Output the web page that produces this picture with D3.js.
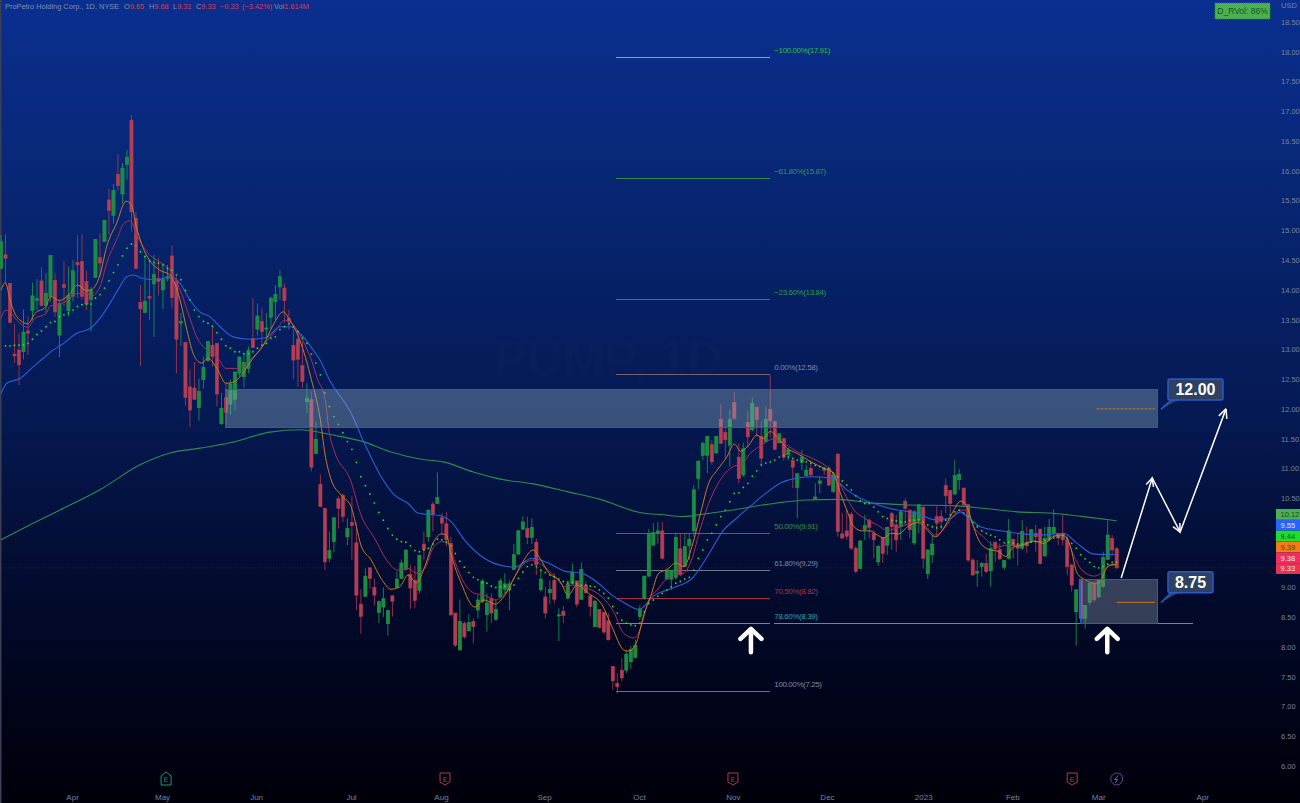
<!DOCTYPE html>
<html><head><meta charset="utf-8">
<style>html,body{margin:0;padding:0;background:#000;overflow:hidden}svg{display:block}text{font-family:"Liberation Sans",Arial,sans-serif}</style>
<script src="https://cdn.jsdelivr.net/npm/d3@7"></script>
</head><body><svg id="c" width="1300" height="803"></svg>
<script>
const opens=[14.36,14.59,14.11,12.92,12.99,12.96,13.31,13.65,13.82,14.15,
13.74,13.89,14.16,13.24,14.09,13.65,13.89,14.46,14.48,14.14,
13.84,14.21,14.54,14.81,15.51,15.25,15.94,15.61,16.11,16.85,
15.20,13.79,13.62,13.89,14.10,14.19,14.00,14.19,14.57,14.14,
13.44,13.12,12.37,12.35,12.02,12.49,12.81,13.07,13.10,11.75,
12.19,12.08,12.16,12.60,12.54,12.68,13.18,13.34,13.47,13.34,
13.54,13.80,14.05,14.03,13.52,13.07,13.17,12.73,12.12,12.16,
11.25,10.73,10.33,9.49,9.77,10.49,10.55,9.85,10.09,9.75,
8.72,8.85,9.33,9.00,8.58,8.67,8.39,8.86,9.00,9.15,
9.30,9.22,9.12,8.95,9.73,9.85,10.40,10.41,10.17,10.07,
9.74,8.57,7.95,8.40,8.27,8.43,8.62,8.76,8.54,8.82,
8.46,8.84,8.97,8.96,9.30,9.56,9.98,9.99,9.84,9.76,
8.96,8.84,8.91,9.12,8.52,8.60,8.82,9.07,9.11,8.80,
9.04,8.86,8.34,8.63,8.58,8.44,7.67,7.39,7.61,7.61,
7.75,7.82,8.51,8.82,9.19,9.71,9.91,9.95,9.14,9.14,
9.17,9.65,9.35,9.70,9.95,10.83,11.22,11.22,11.40,11.26,
11.82,11.60,11.39,12.11,11.19,10.89,11.77,11.65,12.03,11.54,
11.45,11.99,11.79,11.43,11.50,11.23,11.13,10.68,11.10,10.88,
11.00,10.48,10.75,11.00,11.00,10.61,11.24,9.90,9.95,10.23,
9.66,9.32,9.97,10.13,9.91,9.43,9.84,9.71,10.24,10.05,
10.02,10.45,10.30,9.75,10.12,10.35,9.23,9.55,10.19,10.19,
10.71,10.63,10.57,10.81,10.67,10.39,9.46,9.24,9.35,9.40,
9.28,9.76,9.64,9.34,9.49,9.81,9.70,9.66,9.76,9.79,
9.91,9.98,9.53,9.80,9.91,9.91,9.91,9.80,9.38,8.59,
9.14,8.48,8.75,9.07,8.84,9.02,9.47,9.82,9.65];
const highs=[14.92,14.94,14.11,13.43,13.27,13.67,13.55,14.12,14.18,14.38,
14.28,14.58,14.28,13.83,14.48,14.39,14.50,14.92,14.93,14.32,
14.05,14.85,14.95,15.17,15.70,15.78,16.28,16.13,16.35,16.94,
15.31,14.08,14.56,14.50,14.59,14.53,14.45,14.42,14.75,14.22,
13.61,13.12,12.66,12.79,12.51,12.88,13.13,13.38,13.10,12.27,
12.43,12.49,12.62,12.88,12.93,13.05,13.86,13.77,13.69,13.61,
13.89,14.08,14.33,14.11,13.66,13.33,13.33,13.13,12.43,12.29,
11.79,10.90,10.33,9.94,10.17,10.53,10.58,10.16,10.53,10.08,
8.97,9.32,9.33,9.15,8.78,9.00,8.63,8.86,9.27,9.47,
9.63,9.38,9.36,9.55,9.94,10.30,10.44,10.93,10.25,10.27,
9.85,8.57,8.80,8.43,8.55,8.48,8.87,9.14,8.90,8.90,
8.79,9.15,9.24,9.12,9.73,9.97,10.20,10.19,10.16,9.82,
9.29,9.01,9.12,9.24,8.65,8.68,9.12,9.40,9.12,9.42,
9.10,8.87,8.79,8.63,8.59,8.57,7.67,7.56,7.81,7.94,
8.02,8.12,8.70,9.19,9.98,10.08,10.10,10.10,9.29,9.29,
9.91,9.91,9.91,9.91,10.72,11.14,11.45,11.54,11.48,11.54,
12.08,11.70,11.99,12.28,11.42,11.43,11.97,12.19,12.03,11.79,
12.04,12.57,11.79,11.59,11.50,11.34,11.17,10.91,11.31,11.06,
11.14,10.75,10.86,11.03,11.03,10.92,11.25,10.25,10.30,10.27,
9.69,9.80,10.22,10.16,9.96,9.71,9.85,10.02,10.27,10.22,
10.30,10.50,10.30,10.30,10.39,10.35,9.63,9.88,10.36,10.30,
10.83,10.63,11.14,10.99,10.67,10.39,9.49,9.46,9.43,9.57,
9.77,9.77,9.74,9.46,10.15,9.82,9.91,10.13,10.02,9.98,
10.05,9.98,10.02,10.15,10.31,9.91,10.22,9.80,9.38,8.96,
9.14,8.70,9.07,9.11,9.14,9.60,10.12,9.88,9.68];
const lows=[14.36,14.11,13.45,12.77,12.40,12.83,12.91,13.49,13.66,13.72,
13.61,13.80,13.55,12.87,13.72,13.55,13.80,13.86,13.83,13.66,
13.30,14.21,14.22,14.81,14.92,15.11,15.67,15.45,15.85,14.98,
14.36,12.72,13.61,13.49,13.21,13.91,13.68,14.14,13.69,12.60,
13.06,12.05,11.69,12.15,11.80,12.35,12.79,12.71,12.04,11.73,
11.73,11.90,11.98,12.54,12.36,12.60,13.02,13.23,13.10,13.21,
13.35,13.49,13.83,13.45,13.33,12.50,12.37,12.35,11.93,10.95,
11.24,10.35,9.29,9.42,9.59,9.99,10.10,9.71,9.46,8.62,
8.22,8.85,8.98,8.70,8.40,8.50,8.19,8.51,8.99,9.14,
9.28,8.64,8.65,8.90,9.47,9.77,9.94,10.40,9.88,9.69,
8.52,8.00,7.94,8.14,8.26,8.06,8.48,8.74,8.26,8.40,
8.45,8.82,8.90,8.62,9.29,9.55,9.96,9.73,9.73,9.21,
8.93,8.48,8.72,8.73,8.10,8.40,8.80,9.04,8.67,8.79,
8.90,8.51,8.33,8.31,8.22,8.11,7.28,7.22,7.42,7.56,
7.63,7.81,8.45,8.79,9.18,9.71,9.74,9.47,9.13,8.96,
9.13,9.19,9.35,9.46,9.85,10.65,11.14,10.92,11.06,11.24,
11.41,11.17,11.03,11.82,10.75,10.86,11.35,11.62,11.53,11.03,
11.43,11.53,11.31,11.42,11.13,11.14,10.67,10.16,10.97,10.86,
10.86,10.48,10.58,10.89,10.70,10.59,9.85,9.81,9.80,9.63,
9.24,9.30,9.80,9.83,9.49,9.36,9.41,9.55,9.63,9.60,
9.80,10.05,9.83,9.71,9.91,9.32,9.14,9.41,9.85,9.97,
10.25,10.25,10.55,10.64,10.36,9.43,9.19,9.01,9.18,9.24,
9.01,9.43,9.46,9.29,9.47,9.49,9.37,9.63,9.58,9.77,
9.60,9.39,9.52,9.77,9.85,9.71,9.71,9.21,8.93,8.02,
8.39,8.31,8.70,8.76,8.82,8.99,9.46,9.55,9.31];
const closes=[14.81,14.53,13.45,12.89,12.74,13.29,13.27,13.90,13.85,13.74,
13.94,14.58,13.63,13.77,14.04,13.91,14.32,14.42,13.89,13.76,
13.99,14.85,14.45,15.17,15.33,15.67,15.75,16.04,16.23,15.31,
14.36,13.68,13.81,13.86,14.26,14.14,14.18,14.22,13.87,13.17,
13.47,12.19,11.98,12.16,12.29,12.70,13.13,12.88,12.25,12.01,
11.94,12.42,12.62,12.87,12.78,12.98,13.03,13.56,13.30,13.36,
13.86,13.92,14.22,13.82,13.47,12.82,12.83,12.46,12.18,11.02,
11.49,10.36,9.43,9.62,10.17,10.33,10.19,9.99,10.04,8.87,
8.51,9.19,9.15,8.87,8.76,8.81,8.61,8.77,9.14,9.41,
9.63,8.99,8.78,9.54,9.64,10.30,10.23,10.51,10.08,9.80,
8.54,8.03,8.43,8.17,8.41,8.34,8.79,9.11,8.74,8.57,
8.63,9.11,9.06,9.06,9.55,9.95,10.10,9.84,10.01,9.38,
9.14,8.57,8.97,8.80,8.54,8.53,9.06,9.26,8.72,9.30,
8.91,8.68,8.77,8.33,8.25,8.12,7.43,7.33,7.48,7.88,
7.96,8.03,8.64,9.19,9.91,9.92,9.95,9.49,9.29,9.29,
9.84,9.21,9.69,9.81,10.64,11.12,11.42,11.54,11.11,11.54,
11.42,11.48,11.82,11.84,10.83,11.33,11.53,12.09,11.82,11.17,
11.82,11.80,11.32,11.58,11.19,11.31,11.02,10.91,11.19,10.97,
10.89,10.52,10.79,10.97,10.72,10.89,9.94,9.83,9.86,9.66,
9.27,9.78,10.04,10.01,9.80,9.69,9.57,10.01,10.02,9.80,
10.27,10.33,9.97,10.27,10.39,9.49,9.63,9.73,10.08,10.11,
10.54,10.41,10.88,10.90,10.39,9.46,9.21,9.27,9.40,9.27,
9.65,9.65,9.48,9.45,9.95,9.70,9.66,9.94,9.70,9.97,
9.85,9.40,9.82,10.01,10.01,9.83,9.80,9.35,9.04,8.96,
8.48,8.70,9.07,8.79,9.13,9.50,9.88,9.63,9.33];

const fastBars=[0,1,2,3.5,6,7.5,10,11,13,15,17,19,20,22,23.5,25.7,27.8,29,30,31.6,33,35.3,37.5,39.8,41.3,43,44.6,46,48,50,52,54,56,58.3,60.5,62.7,64.2,66.4,69,71,72,73.3,75.6,77.8,79,80,82.3,84.5,86.7,88.6,90.5,92.3,94.2,96,98,99,100,102.3,105.3,107.4,109.8,112,114.2,116,118.3,119.8,121.7,124.3,126.1,128,130.6,133.6,135.8,138.4,139.3,141,143,144.4,146.2,148,150,151.8,153.6,155.5,157.3,159.2,161.4,163,164.4,166.2,168,169.5,171,172.8,174.7,177,180,183,185,186.6,188,189.6,191.4,193.2,194.8,196.3,197.8,199.6,201.5,204,205.6,207.7,210,211.8,213.3,214.7,215.9,217.3,219.2,221.8,223.3,225.1,227,229.6,231.8,234.4,236.2,237.7,239.2,241,243,244.4,245.5,246.6,248];
const fastValues=[14.0,14.12,13.83,13.55,13.43,13.6,13.72,13.89,13.82,13.91,14.08,13.99,14.0,14.25,14.73,15.12,15.49,15.43,15.09,14.7,14.5,14.33,14.25,13.83,13.33,12.88,12.77,12.85,12.68,12.43,12.46,12.63,12.85,13.07,13.41,13.63,13.49,13.16,12.49,11.81,11.25,10.83,10.55,10.36,10.02,9.71,9.46,9.15,8.97,9.01,9.21,9.08,9.35,9.74,9.9,9.88,9.57,9.07,8.67,8.79,8.72,8.87,9.18,9.43,9.63,9.49,9.25,9.1,8.87,9.04,8.9,8.71,8.34,7.95,7.93,8.03,8.57,8.85,9.24,9.3,9.41,9.35,9.69,10.25,10.75,10.97,11.2,11.41,11.29,11.39,11.56,11.5,11.62,11.5,11.34,11.25,11.11,11.0,10.92,10.58,10.3,10.02,9.95,9.95,9.88,9.83,9.91,9.9,10.02,10.1,9.99,9.85,10.05,10.3,10.45,10.36,10.08,9.8,9.65,9.6,9.52,9.68,9.71,9.78,9.74,9.87,9.88,9.69,9.24,9.13,9.07,9.1,9.29,9.38,9.39];
const midBars=[0,1,2,3.5,6,7.5,10,11,13,15,17,19,20,22,23.5,25.7,27.5,28.8,30,31.6,33,35.3,37.5,39.8,41.6,43.5,45.7,48,50,52.4,54.6,56.8,59,61.3,63,65,66.8,69,70.4,72,73,74,77.8,80,83,86,88.2,90.5,92.3,94.2,96,98,99.4,100.9,103,105.3,107.5,109.8,112,114.2,116,118.3,120.2,123.2,125.4,127.3,130.6,133.6,136.2,138.4,140.7,142,144,145.9,147.7,150,151.8,153.6,155.5,157.3,159.2,161,163,164.7,166.5,168.4,170.2,172,174.7,177,180.3,183,185.4,187.3,189.6,192,194.8,197,200,203,205.6,207.7,210,211.8,213.3,214.7,216.2,218.4,221.4,223.6,225.9,228.8,231.8,234.7,236.6,238.4,240.3,243,244.4,245.9,248];
const midValues=[13.52,13.66,13.63,13.49,13.37,13.52,13.6,13.73,13.76,13.83,13.94,13.94,13.89,14.05,14.45,14.84,15.13,15.16,14.95,14.73,14.59,14.47,14.33,14.0,13.61,13.21,12.99,12.88,12.68,12.68,12.77,12.93,13.13,13.33,13.49,13.41,13.19,12.82,12.49,12.18,11.59,11.31,10.78,10.22,9.83,9.43,9.29,9.32,9.24,9.32,9.66,9.77,9.74,9.43,9.07,8.9,8.87,8.79,8.9,9.18,9.38,9.46,9.38,9.18,9.01,9.04,8.98,8.84,8.59,8.23,8.15,8.28,8.79,8.96,9.13,9.21,9.24,9.49,10.0,10.41,10.72,10.92,11.04,11.07,11.25,11.36,11.45,11.5,11.39,11.28,11.17,11.06,10.89,10.61,10.3,10.16,10.05,9.96,10.02,10.09,10.02,9.88,10.02,10.22,10.3,10.3,10.02,9.85,9.68,9.71,9.71,9.77,9.77,9.87,9.85,9.54,9.29,9.19,9.23,9.35,9.38];
const blueBars=[0,1.3,4.2,7.2,9.4,10.9,13.9,16.8,19.8,22,24.2,26.4,27.9,29.4,31.6,34.6,37.6,39.8,42,44.2,46.4,48.7,51.6,55.3,59,62,64.2,67.2,69.4,70.9,73,77.8,80.8,84.5,87.5,90.5,92.7,97.9,100.1,103,106,109.8,114.2,118,121.7,125.4,129,132.8,135.8,138.8,141.8,145,150,153.6,157,160.7,163.3,166.5,169.5,173.2,177,180.7,185,188,191,194.8,199.2,203.6,207.3,211,213.3,214.7,217.7,221.4,225.9,231,236.2,239.2,243,248];
const blueValues=[12.26,12.43,12.51,12.71,12.85,12.95,13.1,13.27,13.35,13.52,13.77,14.05,14.22,14.25,14.19,14.17,14.22,14.11,13.83,13.63,13.55,13.38,13.21,13.17,13.2,13.38,13.38,13.21,12.99,12.82,12.49,11.93,11.42,10.86,10.55,10.41,10.25,10.2,10.1,9.8,9.57,9.4,9.34,9.49,9.41,9.27,9.24,9.07,8.87,8.73,8.63,8.85,9.01,9.15,9.52,9.97,10.15,10.36,10.55,10.75,10.84,10.86,10.83,10.64,10.5,10.39,10.3,10.25,10.14,10.16,10.27,10.19,10.02,9.96,9.91,9.88,9.91,9.74,9.56,9.55];
const longBars=[0,6.4,13.1,22,30.9,37.6,44.2,50.9,59.8,66.5,73.8,80.5,86.5,93.8,98.3,105,111,118.3,125.8,133.2,142,147.2,151.6,156,162.7,167.2,172.5,179.2,185.9,193.2,200.5,212.5,218.3,225.9,233.2,240.6,248];
const longValues=[9.8,10.05,10.3,10.64,11.06,11.26,11.34,11.43,11.61,11.65,11.56,11.45,11.28,11.15,11.11,10.94,10.82,10.74,10.61,10.48,10.26,10.22,10.19,10.23,10.3,10.36,10.42,10.47,10.48,10.42,10.39,10.37,10.33,10.27,10.25,10.19,10.12];
const dotFirstBar=1;
const dotValues=[13.06,13.06,13.07,13.07,13.08,13.10,13.17,13.25,13.31,13.38,13.45,13.47,13.55,13.58,13.61,13.66,13.72,13.75,13.76,13.76,13.86,13.92,14.03,14.15,14.29,14.42,14.57,14.70,14.77,14.74,14.64,14.56,14.49,14.46,14.45,14.42,14.36,14.33,14.25,14.17,13.99,13.83,13.66,13.55,13.47,13.44,13.39,13.28,13.17,13.06,13.02,12.96,12.96,12.93,12.93,12.96,13.02,13.07,13.10,13.19,13.21,13.33,13.38,13.43,13.38,13.30,13.19,13.10,12.92,12.77,12.57,
12.27,12.04,11.87,11.74,11.60,11.45,11.32,11.10,10.86,10.71,10.57,10.42,10.26,10.13,9.99,9.88,9.81,9.77,9.76,9.70,9.62,9.60,9.63,9.66,9.73,9.81,9.80,9.76,9.70,9.57,9.44,9.34,9.25,9.17,9.13,9.08,9.07,9.02,9.00,9.01,9.02,8.96,9.04,9.15,9.26,9.35,9.38,9.35,9.29,9.25,9.21,9.18,9.14,9.10,9.08,9.08,9.06,9.04,9.04,9.02,9.01,8.96,8.90,8.82,8.68,8.57,8.45,8.40,8.37,8.36,
8.40,8.59,8.73,8.79,8.85,8.90,8.96,9.01,9.07,9.10,9.14,9.17,9.29,9.49,9.63,9.80,9.91,10.05,10.19,10.30,10.44,10.58,10.59,10.68,10.75,10.87,10.96,11.06,11.09,11.11,11.14,11.19,11.21,11.19,11.17,11.14,11.13,11.11,11.09,11.05,11.03,11.00,11.00,10.92,10.86,10.79,10.72,10.64,10.54,10.46,10.41,10.41,10.35,10.27,10.19,10.16,10.13,10.12,10.10,10.10,10.13,10.13,10.14,10.10,10.05,10.02,10.00,10.02,10.13,10.22,10.27,10.30,
10.25,10.19,10.09,10.02,9.95,9.91,9.88,9.85,9.80,9.75,9.76,9.74,9.73,9.73,9.74,9.76,9.77,9.77,9.79,9.81,9.83,9.85,9.87,9.83,9.74,9.66,9.55,9.48,9.42,9.35,9.33,9.35,9.39,9.42,9.43];

const priceTicks=[18.5,18,17.5,17,16.5,16,15.5,15,14.5,14,13.5,13,12.5,12,11.5,11,10.5,9,8.5,8,7.5,7,6.5,6];
const monthLabels=["Apr","May","Jun","Jul","Aug","Sep","Oct","Nov","Dec","2023","Feb","Mar","Apr"];
const monthBars=[15.8,35.8,56.7,77.8,97.8,120.7,141.8,162.7,183.6,205,224.8,243.9,267];
const fibLabels=["\u2212100.00%(17.91)","\u221261.80%(15.87)","\u221223.60%(13.84)","0.00%(12.58)","50.00%(9.91)","61.80%(9.29)","70.50%(8.82)","78.60%(8.39)","100.00%(7.25)"];
const fibPrices=[17.91,15.87,13.84,12.58,9.91,9.29,8.82,8.39,7.25];
const fibLine=["#7fae90","#2f8a45","#2f8a45","#7a6468","#2a8048","#707a8c","#a8303f","#2aa3b8","#6f6f78"];
const fibText=["#25c040","#2f9a48","#2f9a48","#7f8896","#2a9550","#7f8896","#b03040","#25a0b8","#7f8896"];
const fibStartBar=136.7,fibEndBar=171,fibExtStartBar=171.9,fibExtEndBar=265;
const sidePrices=["10.12","9.55","9.44","9.39","9.38","9.33"];
const sideColors=["#4caf50","#2962ff","#1fdc2f","#f57c15","#ef2f5f","#e8324f"];
const headerName="ProPetro Holding Corp., 1D, NYSE";
const headerParts=[["O","9.65",124],["H","9.68",149],["L","9.31",173],["C","9.33",196],["","\u22120.33",220],["","(\u22123.42%)",242],["Vol","1.614M",274]];
const zoneBars=[[49.8,257],[239.9,257]];
const zonePrices=[[12.33,11.69],[9.14,8.39]];
const arrowBars=[249,255.9,262.1,272.3];
const arrowPrices=[9.16,10.84,9.93,12.0];
const targetLabels=["12.00","8.75"];
const targetPrices=[12.0,8.75];
const targetBarsFrom=[243.5,248];
const upBars=[166.7,245.9];
const earnBars=[36.7,98.7,162.7,238.1];

const W=1300,H=803;
const svg=d3.select("#c");
const x=d3.scaleLinear().domain([0,248]).range([1,1116.7]);
const y=d3.scaleLinear().domain([6,18.5]).range([766,22]);
const defs=svg.append("defs");
const grad=defs.append("linearGradient").attr("id","bg").attr("x1",0).attr("x2",0).attr("y1",0).attr("y2",1);
[[0,"#0a2f90"],[.25,"#072571"],[.5,"#051a55"],[.7,"#030d33"],[.87,"#01041a"],[1,"#00000a"]].forEach(s=>grad.append("stop").attr("offset",s[0]).attr("stop-color",s[1]));
svg.append("rect").attr("width",W).attr("height",H).attr("fill","url(#bg)");
svg.append("rect").attr("width",1.5).attr("height",H).attr("fill","#3a3f55");

svg.append("text").attr("x",x(135)).attr("y",376).attr("text-anchor","middle").attr("font-size",50).attr("font-weight","bold").attr("fill","#fff").attr("fill-opacity",.012).text("PUMP, 1D");

// last price line
svg.append("line").attr("x1",0).attr("x2",1276).attr("y1",y(9.33)).attr("y2",y(9.33)).attr("stroke","#a03040").attr("stroke-opacity",.5).attr("stroke-width",.7).attr("stroke-dasharray","1 2");

// fib
const fg=svg.append("g");
fibPrices.forEach((p,i)=>{
  fg.append("line").attr("x1",x(fibStartBar)).attr("x2",x(fibEndBar)).attr("y1",y(p)).attr("y2",y(p)).attr("stroke",fibLine[i]).attr("stroke-width",1).attr("shape-rendering","crispEdges");
  fg.append("text").attr("x",x(fibExtStartBar)).attr("y",y(p)-4.5).attr("font-size",8).attr("letter-spacing",-.4).attr("fill",fibText[i]).text(fibLabels[i]);
});
fg.append("line").attr("x1",x(fibExtStartBar)).attr("x2",x(fibExtEndBar)).attr("y1",y(8.39)).attr("y2",y(8.39)).attr("stroke",fibLine[7]).attr("stroke-width",1).attr("shape-rendering","crispEdges");

// candles
const bars=d3.range(opens.length);
const upCol="#1f9a48",dnCol="#b8384e";
const col=i=>closes[i]>=opens[i]?upCol:dnCol;
svg.append("g").selectAll("line").data(bars).join("line")
 .attr("x1",i=>x(i)).attr("x2",i=>x(i)).attr("y1",i=>y(highs[i])).attr("y2",i=>y(lows[i]))
 .attr("stroke",i=>col(i)).attr("stroke-width",1).attr("stroke-opacity",.8);
svg.append("g").selectAll("rect").data(bars).join("rect")
 .attr("x",i=>x(i)-1.6).attr("width",3.2)
 .attr("y",i=>y(Math.max(opens[i],closes[i])))
 .attr("height",i=>Math.max(1,Math.abs(y(opens[i])-y(closes[i]))))
 .attr("fill",i=>closes[i]>=opens[i]?"#1c8a42":"#b04055")
 .attr("stroke",i=>col(i)).attr("stroke-width",.6);

// moving averages
const ln=d3.line().x(d=>x(d[0])).y(d=>y(d[1])).curve(d3.curveMonotoneX);
const draw=(b,v,c,w)=>svg.append("path").attr("d",ln(b.map((k,i)=>[k,v[i]]))).attr("fill","none").attr("stroke",c).attr("stroke-width",w);
draw(longBars,longValues,"#2e8b4f",1.1);
draw(blueBars,blueValues,"#2b5fd6",1.1);
draw(midBars,midValues,"#a62e5c",1);
draw(fastBars,fastValues,"#c97a1e",1);
svg.append("g").selectAll("circle").data(dotValues).join("circle")
 .attr("cx",(d,i)=>x(dotFirstBar+i)).attr("cy",d=>y(d)).attr("r",.9).attr("fill","#22e030");

// zones
zoneBars.forEach((b,i)=>{
  svg.append("rect").attr("x",x(b[0])).attr("width",x(b[1])-x(b[0]))
   .attr("y",y(zonePrices[i][0])).attr("height",y(zonePrices[i][1])-y(zonePrices[i][0]))
   .attr("fill",i?"#7d8a9a":"#8fafc0").attr("fill-opacity",i?.42:.38).attr("stroke","#2a5ac8").attr("stroke-width",1).attr("shape-rendering","crispEdges");
});

// target labels
targetLabels.forEach((t,i)=>{
  const py=y(targetPrices[i]);
  svg.append("line").attr("x1",x(targetBarsFrom[i])).attr("x2",x(256.5)).attr("y1",py).attr("y2",py)
   .attr("stroke","#c87a1c").attr("stroke-width",1).attr("stroke-dasharray",i?"none":"3 1");
  const bx=x(259.4), w=i?45:55, by=py-(i?30.5:30);
  svg.append("path").attr("d",`M${bx-7},${py+.5} L${bx+3},${by+21} L${bx+10},${by+21}`).attr("fill","#2f4060").attr("stroke","#2a5ac8").attr("stroke-width",1.5);
  svg.append("rect").attr("x",bx).attr("y",by).attr("width",w).attr("height",21).attr("rx",2).attr("fill","#2f4060").attr("stroke","#2a5ac8").attr("stroke-width",1.5);
  svg.append("text").attr("x",bx+w/2).attr("y",by+16).attr("text-anchor","middle").attr("font-size",16).attr("font-weight","bold").attr("fill","#fff").text(t);
});

// forecast arrows
const pts=arrowBars.map((b,i)=>[x(b),y(arrowPrices[i])]);
svg.append("path").attr("d",d3.line()(pts)).attr("fill","none").attr("stroke","#fff").attr("stroke-width",1.5);
function head(p,q,len){const a=Math.atan2(q[1]-p[1],q[0]-p[0]);
  [a+2.7,a-2.7].forEach(t=>svg.append("line").attr("x1",q[0]).attr("y1",q[1]).attr("x2",q[0]+len*Math.cos(t)).attr("y2",q[1]+len*Math.sin(t)).attr("stroke","#fff").attr("stroke-width",1.5));}
head(pts[0],pts[1],9);head(pts[1],pts[2],9);head(pts[2],pts[3],10);

// big up arrows
upBars.forEach(b=>{const cx=x(b),t=y(8.32),bt=y(7.91);
  svg.append("path").attr("d",`M${cx},${bt} L${cx},${t+2} M${cx-10.5},${t+11} L${cx},${t+1} L${cx+10.5},${t+11}`).attr("fill","none").attr("stroke","#fff").attr("stroke-width",4.5).attr("stroke-linecap","round").attr("stroke-linejoin","round");
});

// axes
const ya=d3.axisRight(y).tickValues(priceTicks).tickFormat(d3.format(".2f")).tickSize(0).tickPadding(0);
const gy=svg.append("g").attr("transform","translate(1281,0)").call(ya);
gy.select(".domain").remove();
gy.selectAll("text").attr("font-size",7.5).attr("fill","#76839c").style("font-family",'"Liberation Sans"');
svg.append("text").attr("x",1281).attr("y",8).attr("font-size",7.5).attr("fill","#76839c").text("USD");
const xa=d3.axisBottom(x).tickValues(monthBars).tickFormat((d,i)=>monthLabels[i]).tickSize(0).tickPadding(0);
const gx=svg.append("g").attr("transform","translate(0,794)").call(xa);
gx.select(".domain").remove();
gx.selectAll("text").attr("font-size",8).attr("fill","#76839c").style("font-family",'"Liberation Sans"');

// side price tags
sidePrices.forEach((s,i)=>{
  const t=509+i*10.83;
  svg.append("rect").attr("x",1276).attr("y",t).attr("width",24).attr("height",10.83).attr("fill",sideColors[i]);
  svg.append("text").attr("x",1280.5).attr("y",t+8.2).attr("font-size",7.5).attr("fill",i===2||i===3||i===0?"#16361a":"#fff").attr("fill-opacity",.9).text(s);
});

// rvol badge
svg.append("rect").attr("x",1215).attr("y",3).attr("width",55).attr("height",16).attr("fill","#4caf50").attr("stroke","#2e8b3c").attr("stroke-dasharray","1 1");
svg.append("text").attr("x",1242.5).attr("y",14).attr("text-anchor","middle").attr("font-size",8.5).attr("fill","#0e5a2a").text("D_RVol: 86%");

// header
svg.append("text").attr("x",5).attr("y",8.5).attr("font-size",7.4).attr("fill","#7f8fae").text(headerName);
headerParts.forEach(h=>{
  const t=svg.append("text").attr("x",h[2]).attr("y",8.5).attr("font-size",7.4);
  t.append("tspan").attr("fill","#7f8fae").text(h[0]);
  t.append("tspan").attr("fill","#d8404f").text(h[1]);
});

// events
earnBars.forEach((b,i)=>{
  const cx=x(b),cy=779,c=i?"#b8384e":"#159a7a";
  const d=i?`M${cx-5},${cy-6} H${cx+5} V${cy+3} L${cx},${cy+6} L${cx-5},${cy+3} Z`:`M${cx},${cy-7} L${cx+5},${cy-3} V${cy+6} H${cx-5} V${cy-3} Z`;
  svg.append("path").attr("d",d).attr("fill","none").attr("stroke",c).attr("stroke-width",1);
  svg.append("text").attr("x",cx).attr("y",cy+3).attr("text-anchor","middle").attr("font-size",7).attr("fill",c).text("E");
});
const lx=x(248);
svg.append("circle").attr("cx",lx).attr("cy",779).attr("r",6).attr("fill","none").attr("stroke","#6a3f9e").attr("stroke-width",1);
svg.append("path").attr("d",`M${lx+1.5},${775.5} L${lx-2},${779.5} H${lx+1} L${lx-1.5},${783}`).attr("fill","none").attr("stroke","#8a4fc8").attr("stroke-width",1);
</script></body></html>
